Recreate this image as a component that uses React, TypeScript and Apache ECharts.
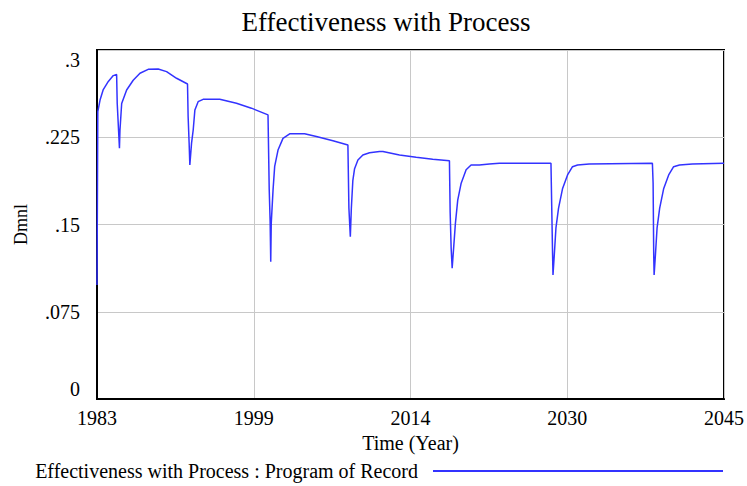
import React, { useEffect, useRef } from "react";
import * as echarts from "echarts";

const TITLE = "Effectiveness with Process";
const SERIES_NAME = "Effectiveness with Process : Program of Record";
const X_NAME = "Time (Year)";
const Y_NAME = "Dmnl";
const START_YEAR = 1983;
const END_YEAR = 2045;
const X_INTERVAL = 15.5;
const Y_MAX = 0.3;
const Y_INTERVAL = 0.075;

const years = [
  1983.0, 1983.08, 1983.3, 1983.62, 1984.12, 1984.61, 1984.94,
  1985.0, 1985.22, 1985.27, 1985.44, 1985.93, 1986.58, 1987.25, 1988.06, 1989.05, 1989.88, 1990.87, 1991.95,
  1992.01, 1992.11, 1992.18, 1992.35, 1992.51, 1992.68, 1993.0, 1993.49, 1994.65, 1995.14, 1996.79, 1998.27, 1999.91,
  2000.03, 2000.12, 2000.18, 2000.23, 2000.41, 2000.57, 2000.9, 2001.39, 2002.05, 2003.53, 2004.69, 2006.33, 2007.81,
  2007.91, 2008.05, 2008.15, 2008.3, 2008.47, 2008.8, 2009.29, 2009.95, 2010.94, 2011.27, 2012.91, 2014.56, 2016.2, 2017.85,
  2017.92, 2018.02, 2018.12, 2018.25, 2018.44, 2018.67, 2019.01, 2019.5, 2019.99, 2020.81, 2021.8, 2022.79, 2027.89,
  2027.95, 2028.05, 2028.09, 2028.22, 2028.38, 2028.64, 2029.04, 2029.53, 2030.02, 2030.52, 2031.67, 2037.92,
  2037.99, 2038.05, 2038.09, 2038.22, 2038.38, 2038.64, 2039.04, 2039.53, 2040.02, 2040.6, 2041.87, 2045.0,
];

const effectiveness = [
  0.098, 0.247, 0.257, 0.266, 0.273, 0.278, 0.279,
  0.254, 0.2156, 0.231, 0.254, 0.2656, 0.274, 0.28, 0.2834, 0.2837, 0.2814, 0.2757, 0.2708,
  0.243, 0.22, 0.2012, 0.22, 0.231, 0.2485, 0.2556, 0.2576, 0.2576, 0.2576, 0.2542, 0.25, 0.2442,
  0.18, 0.1525, 0.118, 0.151, 0.18, 0.2, 0.214, 0.224, 0.228, 0.228, 0.2256, 0.222, 0.2184,
  0.164, 0.1395, 0.164, 0.188, 0.198, 0.2055, 0.2098, 0.2117, 0.2127, 0.2127, 0.2098, 0.2078, 0.2061, 0.2047,
  0.161, 0.1296, 0.1124, 0.128, 0.151, 0.171, 0.1855, 0.197, 0.2012, 0.2012, 0.202, 0.2027, 0.2027,
  0.1725, 0.124, 0.1066, 0.124, 0.1468, 0.164, 0.181, 0.1926, 0.1997, 0.2012, 0.202, 0.2027,
  0.1855, 0.124, 0.1066, 0.124, 0.1468, 0.164, 0.181, 0.1926, 0.1997, 0.2012, 0.202, 0.2027,
];

const FONT = "'Liberation Serif', 'Times New Roman', serif";

export default function App() {
  const ref = useRef<HTMLDivElement>(null);

  useEffect(() => {
    if (!ref.current) return;
    const chart = echarts.init(ref.current, null, { renderer: "svg" });
    const data = years.map((y, i) => [y - START_YEAR, effectiveness[i]]);
    chart.setOption({
      animation: false,
      backgroundColor: "#ffffff",
      graphic: [
        {
          type: "text",
          x: 386,
          y: 22,
          style: {
            text: TITLE,
            font: `27px ${FONT}`,
            fill: "#000",
            textAlign: "center",
            textVerticalAlign: "middle",
          },
        },
      ],
      grid: {
        left: 97,
        right: 22,
        top: 50,
        bottom: 87,
        show: true,
        borderColor: "#000",
        borderWidth: 2,
        backgroundColor: "transparent",
      },
      legend: {
        right: 24,
        top: 461,
        padding: 0,
        align: "right",
        icon: "rect",
        itemWidth: 290,
        itemHeight: 2,
        textStyle: { fontFamily: FONT, fontSize: 20, color: "#000", padding: [0, 10, 0, 0] },
        data: [SERIES_NAME],
      },
      xAxis: {
        type: "value",
        min: 0,
        max: END_YEAR - START_YEAR,
        interval: X_INTERVAL,
        name: X_NAME,
        nameLocation: "middle",
        nameGap: 32,
        nameTextStyle: { fontFamily: FONT, fontSize: 20, color: "#000" },
        axisLine: { show: true, onZero: false, lineStyle: { color: "#000", width: 2 } },
        axisTick: { show: false },
        axisLabel: {
          fontFamily: FONT,
          fontSize: 20,
          color: "#000",
          margin: 9,
          formatter: (v: number) => String(Math.round(START_YEAR + v)),
        },
        splitLine: { show: true, lineStyle: { color: "#c8c8c8", width: 1 } },
      },
      yAxis: {
        type: "value",
        min: 0,
        max: Y_MAX,
        interval: Y_INTERVAL,
        name: Y_NAME,
        nameLocation: "middle",
        nameGap: 67,
        nameRotate: 90,
        nameTextStyle: { fontFamily: FONT, fontSize: 18, color: "#000" },
        axisLine: { show: true, lineStyle: { color: "#000", width: 2 } },
        axisTick: { show: false },
        axisLabel: {
          fontFamily: FONT,
          fontSize: 20,
          color: "#000",
          margin: 17,
          verticalAlignMinLabel: "bottom",
          verticalAlignMaxLabel: "top",
          formatter: (v: number) => {
            const r = parseFloat(v.toFixed(4));
            return r === 0 ? "0" : String(r).replace(/^0/, "");
          },
        },
        splitLine: { show: true, lineStyle: { color: "#c8c8c8", width: 1 } },
      },
      series: [
        {
          name: SERIES_NAME,
          type: "line",
          data,
          showSymbol: false,
          symbol: "none",
          lineStyle: { color: "#3333ff", width: 1.5 },
          itemStyle: { color: "#3333ff" },
        },
      ],
    });
    return () => chart.dispose();
  }, []);

  return (
    <div
      ref={ref}
      style={{ position: "fixed", left: 0, top: 0, width: 747, height: 486, background: "#fff" }}
    />
  );
}
